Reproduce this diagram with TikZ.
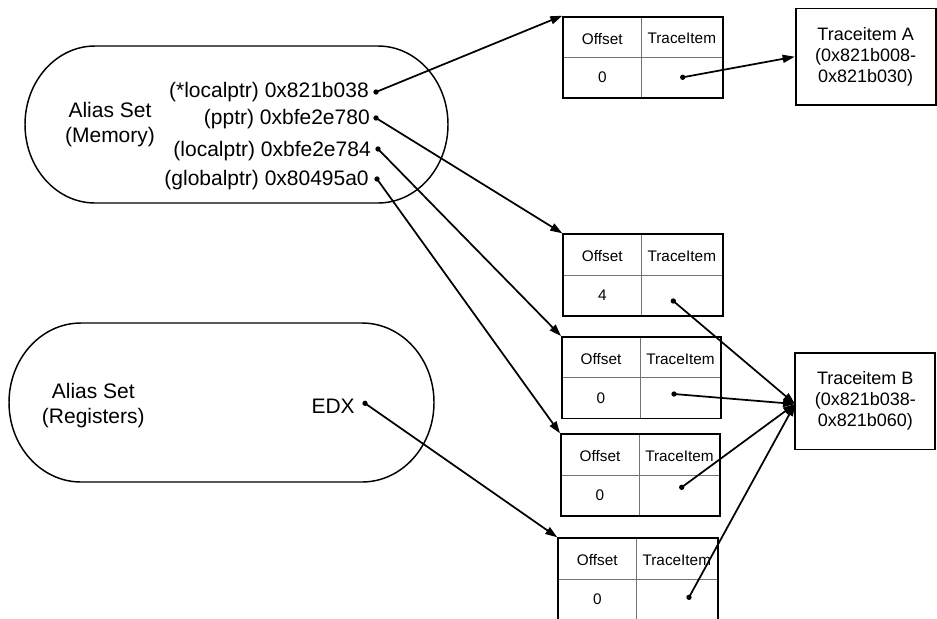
\documentclass[tikz,border=0pt]{standalone}
\usepackage{fontspec}
\setmainfont{Liberation Sans}
\usetikzlibrary{arrows.meta,calc}

\newcommand\bigtxt{\fontsize{15.75}{18.75}\selectfont}
\newcommand\tbltxt{\fontsize{11.5}{14}\selectfont}
\newcommand\itemtxt{\fontsize{13.5}{15.75}\selectfont}

\tikzset{
  conn/.style={line width=1.3pt, -{Triangle[length=9pt,width=6pt]}},
  dotmark/.style={circle, fill=black, inner sep=0pt, minimum size=4pt},
  setoutline/.style={line width=1.1pt},
  tblbox/.style={draw, line width=1.4pt, anchor=north west, inner sep=0pt,
                 minimum width=119.55pt, minimum height=61.2pt},
  gridline/.style={line width=0.6pt, black!55},
  celltxt/.style={font=\tbltxt, inner sep=0pt},
  itembox/.style={draw, line width=1.4pt, align=center, font=\itemtxt,
                  minimum width=105pt, minimum height=72.3pt, inner sep=0pt},
  ptrtxt/.style={font=\bigtxt, anchor=east, inner sep=0pt},
}

% stadium outline: left x, top y, right x, bottom y, end radius x
\newcommand\stadiumpath[5]{%
  \draw[setoutline] ({#1+#5},{-#2}) -- ({#3-#5},{-#2})
    arc[start angle=90, end angle=-90, x radius=#5, y radius={(#4-#2)/2}]
    -- ({#1+#5},{-#4})
    arc[start angle=270, end angle=90, x radius=#5, y radius={(#4-#2)/2}]
    -- cycle;}

% offset table: name, left x, top y, offset value, dot x, dot y
\newcommand\offsettable[6]{%
  \draw[gridline] ({#2+79.5},{-#3}) -- ({#2+79.5},{-#3-81.6});
  \draw[gridline] (#2,{-#3-41.6}) -- ({#2+159.4},{-#3-41.6});
  \node[tblbox] (#1) at (#2,-#3) {};
  \node[celltxt] (#1-h1) at ({#2+40},{-#3-23}) {Offset};
  \node[celltxt] (#1-h2) at ({#2+119.5},{-#3-23}) {TraceItem};
  \node[celltxt] (#1-v) at ({#2+40},{-#3-62}) {#4};
  \node[dotmark] (#1-d) at (#5,-#6) {};}

\begin{document}
\begin{tikzpicture}[x=0.75pt,y=0.75pt]
\useasboundingbox (0,0) rectangle (937,-618);

% alias set of memory locations
\stadiumpath{25}{46}{448}{203}{70}
\node[font=\bigtxt, align=center] (memlbl) at (110,-124.5) {Alias Set\\(Memory)};
\node[ptrtxt] (m1) at (369,-92) {(*localptr) 0x821b038};
\node[ptrtxt] (m2) at (370,-119) {(pptr) 0xbfe2e780};
\node[ptrtxt] (m3) at (371,-151.5) {(localptr) 0xbfe2e784};
\node[ptrtxt] (m4) at (369,-180) {(globalptr) 0x80495a0};
\node[dotmark] (m1d) at (376,-92) {};
\node[dotmark] (m2d) at (376,-118) {};
\node[dotmark] (m3d) at (378,-149) {};
\node[dotmark] (m4d) at (377,-179) {};

% alias set of registers
\stadiumpath{9}{323}{434}{482}{72}
\node[font=\bigtxt, align=center] (reglbl) at (93.3,-406) {Alias Set\\(Registers)};
\node[ptrtxt] (r1) at (355,-406) {EDX};
\node[dotmark] (r1d) at (365,-403.3) {};

% offset tables
\offsettable{t1}{562.3}{15.7}{0}{682.7}{77.3}
\offsettable{t2}{562.3}{233.3}{4}{673.3}{301}
\offsettable{t3}{561}{336}{0}{674}{394}
\offsettable{t4}{560}{433.3}{0}{681.7}{487.3}
\offsettable{t5}{557.3}{537.3}{0}{689}{597.3}

% trace items
\node[itembox] (tia) at (865.6,-56.7) {Traceitem A\\(0x821b008-\\0x821b030)};
\node[itembox] (tib) at (865.3,-401.3) {Traceitem B\\(0x821b038-\\0x821b060)};
\coordinate (tibin) at (795,-404);

% pointers into the tables
\draw[conn] (m1d.center) -- (t1.north west);
\draw[conn] (m2d.center) -- (t2.north west);
\draw[conn] (m3d.center) -- (t3.north west);
\draw[conn] (m4d.center) -- (t4.north west);
\draw[conn] (r1d.center) -- (t5.north west);

% table entries to trace items
\draw[conn] (t1-d.center) -- (tia.west);
\draw[conn] (t2-d.center) -- (tibin);
\draw[conn] (t3-d.center) -- (tibin);
\draw[conn] (t4-d.center) -- (tibin);
\draw[conn] (t5-d.center) -- (tibin);
\end{tikzpicture}
\end{document}
